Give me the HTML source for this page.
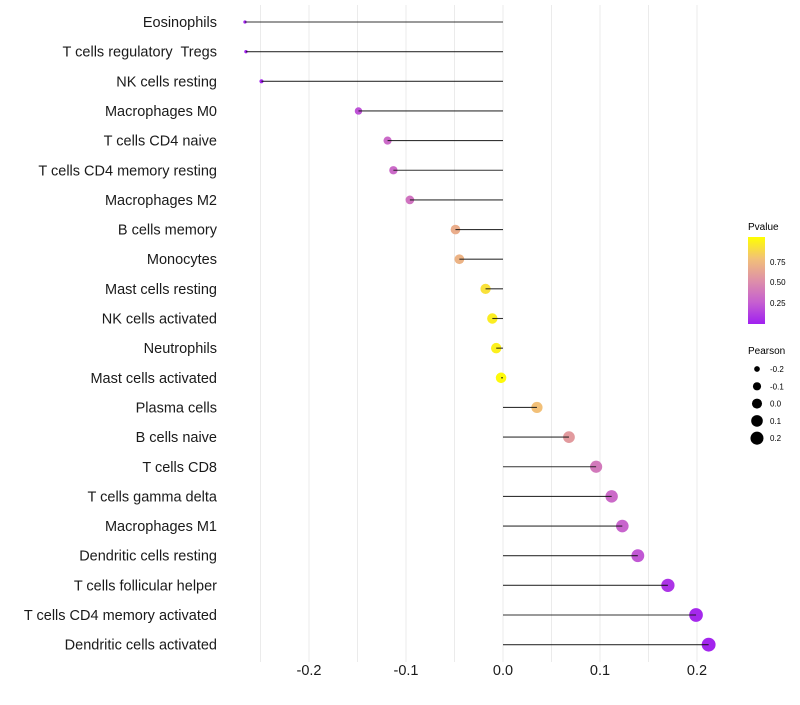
<!DOCTYPE html>
<html><head><meta charset="utf-8"><style>
body{margin:0;background:#fff;font-family:"Liberation Sans",sans-serif;}
svg text{font-family:"Liberation Sans",sans-serif;white-space:pre;}
</style></head><body>
<svg id="chart" width="800" height="700" xmlns="http://www.w3.org/2000/svg">
<g id="grid"></g>
<g id="marks"></g>
<g id="ylabels"></g>
<g id="xlabels"></g>
<g id="legend">
<defs><linearGradient id="pg" x1="0" y1="1" x2="0" y2="0">
<stop offset="0" stop-color="#a020f0"/><stop offset="0.25" stop-color="#c660d0"/><stop offset="0.5" stop-color="#de90a8"/><stop offset="0.75" stop-color="#f2c078"/><stop offset="1" stop-color="#ffff00"/></linearGradient></defs>
<text x="748" y="230" font-size="10">Pvalue</text>
<rect x="748" y="237" width="17" height="87" fill="url(#pg)"/>
<text x="770" y="265" font-size="8">0.75</text>
<text x="770" y="285" font-size="8">0.50</text>
<text x="770" y="306" font-size="8">0.25</text>
<text x="748" y="354" font-size="10">Pearson</text>
</g>
</svg>
<script>
const categories=["Eosinophils","T cells regulatory  Tregs","NK cells resting","Macrophages M0","T cells CD4 naive","T cells CD4 memory resting","Macrophages M2","B cells memory","Monocytes","Mast cells resting","NK cells activated","Neutrophils","Mast cells activated","Plasma cells","B cells naive","T cells CD8","T cells gamma delta","Macrophages M1","Dendritic cells resting","T cells follicular helper","T cells CD4 memory activated","Dendritic cells activated"];
const pearson=[-0.266,-0.265,-0.249,-0.149,-0.119,-0.113,-0.096,-0.049,-0.045,-0.018,-0.011,-0.007,-0.002,0.035,0.068,0.096,0.112,0.123,0.139,0.170,0.199,0.212];
const pvalue=[0.01,0.01,0.02,0.2,0.3,0.3,0.35,0.65,0.68,0.88,0.93,0.94,0.98,0.75,0.55,0.38,0.3,0.27,0.22,0.08,0.03,0.02];
const xTicks=[-0.2,-0.1,0.0,0.1,0.2];
const xTickLabels=["-0.2","-0.1","0.0","0.1","0.2"];
const sizeLegend=[-0.2,-0.1,0.0,0.1,0.2];
const NS="http://www.w3.org/2000/svg";
const X=v=>503+970*v;
const Y=i=>22+i*29.65;
const R=v=>Math.sqrt(Math.max(1,28+95*v));
function lerp(a,b,t){return Math.round(a+(b-a)*t);}
const stops=[[0,[160,32,240]],[0.25,[198,96,208]],[0.5,[222,144,168]],[0.75,[242,192,120]],[1,[255,255,0]]];
function col(p){for(let k=0;k<stops.length-1;k++){const[a,ca]=stops[k],[b,cb]=stops[k+1];if(p<=b){const t=(p-a)/(b-a);return `rgb(${lerp(ca[0],cb[0],t)},${lerp(ca[1],cb[1],t)},${lerp(ca[2],cb[2],t)})`;}}return "rgb(255,255,0)";}
function mk(t,at,parent){const e=document.createElementNS(NS,t);for(const k in at)e.setAttribute(k,at[k]);document.getElementById(parent).appendChild(e);return e;}
const grid=[-0.25,-0.2,-0.15,-0.1,-0.05,0,0.05,0.1,0.15,0.2];
grid.forEach(g=>{const l=mk("line",{x1:X(g),x2:X(g),y1:5,y2:662,stroke:"#ebebeb","stroke-width":1},"grid");

});
categories.forEach((c,i)=>{
const d=mk("circle",{cx:X(pearson[i]),cy:Y(i),r:R(pearson[i]),fill:col(pvalue[i])},"marks");


const s=mk("line",{x1:X(0),x2:X(pearson[i]),y1:Y(i),y2:Y(i),stroke:"#111","stroke-width":1.1,"stroke-opacity":0.85},"marks");


const t=mk("text",{x:217,y:Y(i)+5,"text-anchor":"end","font-size":14.5,fill:"#1a1a1a"},"ylabels");
t.textContent=c;


});
xTicks.forEach((v,i)=>{const t=mk("text",{x:X(v),y:675,"text-anchor":"middle","font-size":14.5,fill:"#1a1a1a"},"xlabels");t.textContent=xTickLabels[i];

});
sizeLegend.forEach((v,i)=>{const y=369+i*17.3;
const c=mk("circle",{cx:757,cy:y,r:R(v)*0.95,fill:"#000"},"legend");


const t=mk("text",{x:770,y:y+3,"font-size":8},"legend");t.textContent=v.toFixed(1);

});
</script>
</body></html>
